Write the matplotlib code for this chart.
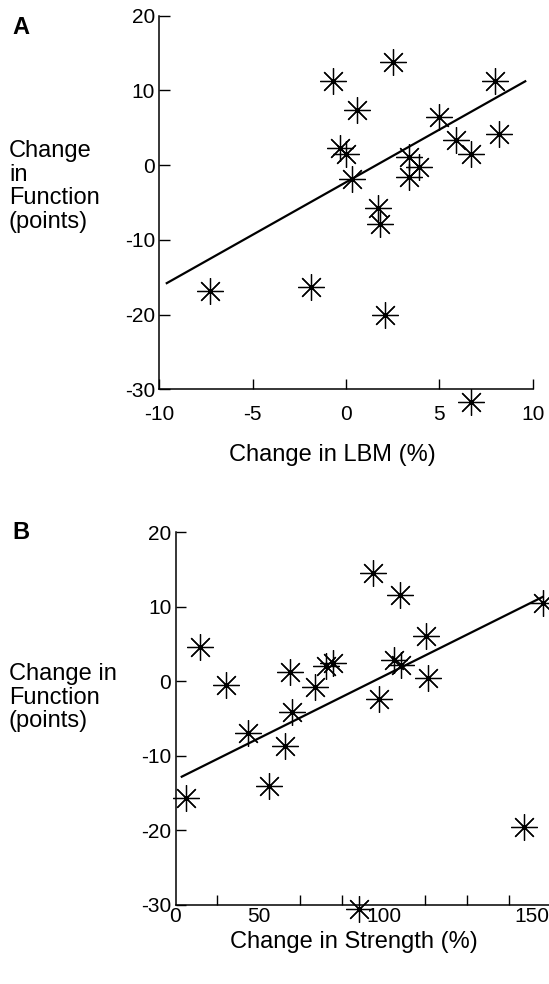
import numpy as np
import matplotlib
matplotlib.use("Agg")
import matplotlib.pyplot as plt

plt.rcParams['font.family'] = ['Liberation Sans', 'DejaVu Sans']

# Panel A: change in LBM (%) vs change in function (points)
lbm_change = [-7.3, -1.9, -0.7, 2.5, 0.6, -0.3, 0.0, 0.3, 1.7, 1.8,
              2.1, 3.4, 3.9, 3.4, 5.0, 5.9, 6.7, 8.0, 8.2, 6.7]
lbm_function = [-16.8, -16.3, 11.3, 13.8, 7.4, 2.3, 1.5, -1.9, -5.7, -7.9,
                -20.0, 1.1, -0.2, -1.6, 6.4, 3.4, 1.5, 11.2, 4.1, -31.7]
lbm_fit_x = [-9.6, 9.6]
lbm_fit_y = [-15.8, 11.2]

# Panel B: change in strength (%) vs change in function (points)
strength_change = [5.0, 11.8, 24.1, 34.7, 45.0, 52.6, 55.0, 55.8, 66.8, 72.3, 75.8,
                   94.7, 97.7, 88.1, 104.9, 107.8, 108.3, 120.3, 121.1, 167.3, 176.6]
strength_function = [-15.6, 4.6, -0.5, -7.0, -14.0, -8.7, 1.2, -4.1, -0.8, 2.0, 2.4,
                     14.5, -2.4, -30.5, 2.9, 11.5, 2.2, 6.1, 0.4, -19.6, 10.5]
strength_fit_x = [3.0, 176.3]
strength_fit_y = [-12.8, 11.3]

lbm_ticks = [-10, -5, 0, 5, 10]
function_ticks = [20, 10, 0, -10, -20, -30]
strength_tick_labels = ['0', '50', '100', '150']

W, H = 549, 984
fig = plt.figure(figsize=(W / 100, H / 100), dpi=100)


def px_axes(left, right, top, bottom):
    return fig.add_axes([left / W, 1 - bottom / H, (right - left) / W, (bottom - top) / H])


star = (8, 2, 0)
mk = dict(marker=star, markersize=19, markeredgewidth=0.9, color='black',
          linestyle='none', clip_on=False)

# ---- Panel A ----
axA = px_axes(159.3, 532.7, 15.5, 389.3)
axA.plot(lbm_change, lbm_function, **mk)
axA.plot(lbm_fit_x, lbm_fit_y, color='black', linewidth=1.6)
axA.set_xlim(-10, 10)
axA.set_ylim(-30, 20)
axA.set_xticks(lbm_ticks)
axA.set_xticklabels([str(t) for t in lbm_ticks])
axA.set_yticks(function_ticks)
axA.set_yticklabels([str(t) for t in function_ticks])
axA.tick_params(axis='x', direction='in', length=7, width=1, pad=11, labelsize=15)
axA.tick_params(axis='y', direction='in', length=8, width=1, pad=3, labelsize=15)
axA.set_xlabel('Change in LBM (%)', fontsize=17, va='top')
axA.xaxis.set_label_coords((332 - 159.3) / 373.4, (389.3 - 444) / 373.8)

# ---- Panel B ----
px_per_unit = 2.083
axB = px_axes(175.5, 549, 532, 905)
axB.plot(strength_change, strength_function, **mk)
axB.plot(strength_fit_x, strength_fit_y, color='black', linewidth=1.6)
axB.set_xlim(0, (549 - 175.5) / px_per_unit)
axB.set_ylim(-30, 20)
axB.set_xticks([0, 40, 100, 171])
axB.set_xticklabels(strength_tick_labels)
axB.set_xticks(np.arange(20, 180, 20), minor=True)
axB.set_yticks(function_ticks)
axB.set_yticklabels([str(t) for t in function_ticks])
axB.tick_params(axis='x', which='major', length=0, pad=1.5, labelsize=15)
axB.tick_params(axis='x', which='minor', direction='in', length=7, width=1)
axB.tick_params(axis='y', direction='in', length=7, width=1, pad=3, labelsize=15)
axB.set_xlabel('Change in Strength (%)', fontsize=17, va='top')
axB.xaxis.set_label_coords((354 - 175.5) / 373.5, (905 - 931) / 373)

for ax in (axA, axB):
    ax.spines['top'].set_visible(False)
    ax.spines['right'].set_visible(False)
    ax.spines['left'].set_linewidth(1.1)
    ax.spines['bottom'].set_linewidth(1.1)

# panel letters and y labels
fig.text(12 / W, 1 - 16 / H, 'A', fontsize=17, fontweight='bold', va='top', ha='left')
fig.text(12 / W, 1 - 521 / H, 'B', fontsize=17, fontweight='bold', va='top', ha='left')
fig.text(9 / W, 1 - 140 / H, 'Change\nin\nFunction\n(points)', fontsize=17,
         va='top', ha='left', linespacing=1.1)
fig.text(9 / W, 1 - 663 / H, 'Change in\nFunction\n(points)', fontsize=17,
         va='top', ha='left', linespacing=1.1)

fig.savefig('out.png', dpi=100)
